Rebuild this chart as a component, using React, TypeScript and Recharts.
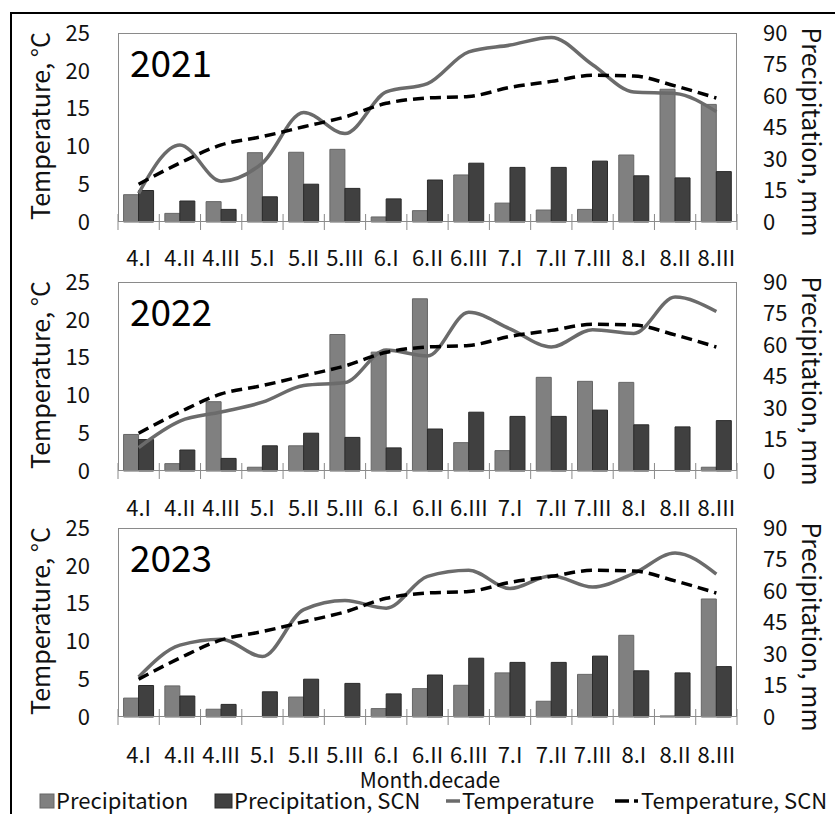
import React from 'react';
import { ComposedChart, Bar, Line, XAxis, YAxis } from 'recharts';

const decades = ['4.I', '4.II', '4.III', '5.I', '5.II', '5.III', '6.I', '6.II', '6.III', '7.I', '7.II', '7.III', '8.I', '8.II', '8.III'];

const precipScn = [15, 10, 6, 12, 18, 16, 11, 20, 28, 26, 26, 29, 22, 21, 24];
const tempScn = [5.0, 7.8, 10.2, 11.3, 12.6, 13.9, 15.7, 16.4, 16.6, 17.8, 18.6, 19.4, 19.3, 18.0, 16.4];

const precip2021 = [13, 4.1, 9.7, 33, 33.2, 34.6, 2.4, 5.4, 22.4, 9, 5.7, 6, 31.9, 63.2, 56];
const temp2021 = [3.8, 10.2, 5.4, 7.8, 14.5, 11.7, 17.2, 18.3, 22.5, 23.4, 24.4, 20.8, 17.2, 17.0, 14.6];

const precip2022 = [17.4, 3.5, 33, 1.8, 12, 65, 56.6, 82, 13.5, 9.7, 44.6, 42.7, 42.2, 0, 1.8];
const temp2022 = [3.1, 6.6, 7.8, 9.1, 11.3, 11.7, 16.0, 15.2, 21.0, 18.8, 16.4, 18.7, 18.2, 23.0, 21.1];

const precip2023 = [9, 14.8, 3.7, 0, 9.5, 0, 4, 13.5, 15.1, 21, 7.5, 20.3, 38.9, 0.5, 56.2];
const temp2023 = [5.3, 9.5, 10.3, 8.0, 14.2, 15.4, 14.4, 18.6, 19.4, 17.0, 18.7, 17.2, 19.0, 21.7, 18.9];

const tempTicks = [0, 5, 10, 15, 20, 25];
const precipTicks = [0, 15, 30, 45, 60, 75, 90];

const FONT = '"Noto Sans CJK JP", "Noto Sans", sans-serif';
const PLOT_LEFT = 118;
const PLOT_WIDTH = 619;
const PLOT_HEIGHT = 189;
const BAND = PLOT_WIDTH / decades.length;
const TOP_PAD = 20;
const X_AXIS_H = 60;

const makeRows = (precip: number[], temp: number[]) =>
  decades.map((d, i) => ({
    decade: d,
    precip: precip[i],
    precipScn: precipScn[i],
    temp: temp[i],
    tempScn: tempScn[i],
  }));

// category labels with Excel-style tick marks between categories
const DecadeTick = (props: any) => {
  const { x, y, payload, index, labelDy } = props;
  const last = index === decades.length - 1;
  return (
    <g>
      <line x1={x - BAND / 2} x2={x - BAND / 2} y1={y - 8} y2={y + 8} stroke="#8a8a8a" strokeWidth={1} />
      {last && <line x1={x + BAND / 2} x2={x + BAND / 2} y1={y - 8} y2={y + 8} stroke="#8a8a8a" strokeWidth={1} />}
      <text x={x} y={y + labelDy} textAnchor="middle" dominantBaseline="central" fontSize={22} fontFamily={FONT} fill="#111">
        {payload.value}
      </text>
    </g>
  );
};

interface PanelProps {
  year: string;
  plotTop: number;
  labelDy: number;
  precip: number[];
  temp: number[];
}

const Panel: React.FC<PanelProps> = ({ year, plotTop, labelDy, precip, temp }) => {
  const data = makeRows(precip, temp);
  const h = TOP_PAD + PLOT_HEIGHT + X_AXIS_H;
  return (
    <>
      <div style={{ position: 'absolute', left: 0, top: plotTop - TOP_PAD, width: 835, height: h }}>
        <ComposedChart
          width={835}
          height={h}
          data={data}
          margin={{ top: TOP_PAD, right: 0, bottom: 0, left: 0 }}
          barCategoryGap="13.5%"
          barGap={0}
        >
          <XAxis
            dataKey="decade"
            height={X_AXIS_H}
            axisLine={false}
            tickLine={false}
            tickSize={0}
            tickMargin={0}
            interval={0}
            tick={<DecadeTick labelDy={labelDy} />}
          />
          <YAxis
            yAxisId="t"
            orientation="left"
            width={PLOT_LEFT}
            domain={[0, 25]}
            ticks={tempTicks}
            axisLine={false}
            tickLine={false}
            tickSize={0}
            tickMargin={28}
            tick={{ fontSize: 22, fontFamily: FONT, fill: '#111' }}
          />
          <YAxis
            yAxisId="p"
            orientation="right"
            width={835 - PLOT_LEFT - PLOT_WIDTH}
            domain={[0, 90]}
            ticks={precipTicks}
            axisLine={false}
            tickLine={false}
            tickSize={0}
            tickMargin={26}
            tick={{ fontSize: 22, fontFamily: FONT, fill: '#111' }}
          />
          <Bar yAxisId="p" dataKey="precip" fill="#808080" stroke="#666" strokeWidth={1} isAnimationActive={false} />
          <Bar yAxisId="p" dataKey="precipScn" fill="#404040" stroke="#2a2a2a" strokeWidth={1} isAnimationActive={false} />
          <Line yAxisId="t" type="monotone" dataKey="temp" stroke="#6b6b6b" strokeWidth={3.5} dot={false} isAnimationActive={false} />
          <Line yAxisId="t" type="monotone" dataKey="tempScn" stroke="#000" strokeWidth={3.5} strokeDasharray="11 6" dot={false} isAnimationActive={false} />
        </ComposedChart>
      </div>
      <div
        style={{
          position: 'absolute',
          left: PLOT_LEFT,
          top: plotTop,
          width: PLOT_WIDTH,
          height: PLOT_HEIGHT,
          border: '1px solid #8a8a8a',
          boxSizing: 'border-box',
          pointerEvents: 'none',
        }}
      />
      <div style={{ position: 'absolute', left: 130, top: plotTop + 3, fontSize: 37, fontFamily: FONT, color: '#000', lineHeight: '50px' }}>
        {year}
      </div>
      <div
        style={{
          position: 'absolute',
          left: 39,
          top: plotTop + PLOT_HEIGHT / 2 - 2,
          transform: 'translate(-50%, -50%) rotate(-90deg)',
          fontSize: 25,
          fontFamily: FONT,
          whiteSpace: 'nowrap',
          color: '#111',
          lineHeight: '28px',
        }}
      >
        Temperature, °C
      </div>
      <div
        style={{
          position: 'absolute',
          left: 813,
          top: plotTop + PLOT_HEIGHT / 2 + 4,
          transform: 'translate(-50%, -50%) rotate(90deg)',
          fontSize: 25,
          fontFamily: FONT,
          whiteSpace: 'nowrap',
          color: '#111',
          lineHeight: '28px',
        }}
      >
        Precipitation, mm
      </div>
    </>
  );
};

const legendText: React.CSSProperties = { position: 'absolute', top: 787, fontSize: 22, fontFamily: FONT, color: '#111', lineHeight: '24px', whiteSpace: 'nowrap' };

export default function App() {
  return (
    <div style={{ position: 'absolute', left: 0, top: 0, width: 835, height: 814, overflow: 'hidden', background: '#fff' }}>
      <div style={{ position: 'absolute', left: 10, top: 12, width: 840, height: 820, border: '2px solid #000', boxSizing: 'border-box' }} />
      <Panel year="2021" plotTop={33} labelDy={34} precip={precip2021} temp={temp2021} />
      <Panel year="2022" plotTop={282} labelDy={35} precip={precip2022} temp={temp2022} />
      <Panel year="2023" plotTop={528} labelDy={36} precip={precip2023} temp={temp2023} />
      <div style={{ position: 'absolute', left: 430, top: 779, transform: 'translate(-50%, -50%)', fontSize: 21, fontFamily: FONT, color: '#111', whiteSpace: 'nowrap', lineHeight: '20px' }}>
        Month.decade
      </div>
      <svg style={{ position: 'absolute', left: 0, top: 789 }} width={835} height={24}>
        <rect x={40} y={5} width={14} height={14} fill="#808080" stroke="#666" />
        <rect x={215} y={5} width={17} height={14} fill="#404040" stroke="#2a2a2a" />
        <line x1={446} x2={460} y1={12} y2={12} stroke="#6b6b6b" strokeWidth={3.5} />
        <line x1={615} x2={629} y1={12} y2={12} stroke="#000" strokeWidth={3.5} />
        <line x1={634} x2={638} y1={12} y2={12} stroke="#000" strokeWidth={3.5} />
      </svg>
      <div style={{ ...legendText, left: 56 }}>Precipitation</div>
      <div style={{ ...legendText, left: 234 }}>Precipitation, SCN</div>
      <div style={{ ...legendText, left: 462 }}>Temperature</div>
      <div style={{ ...legendText, left: 641 }}>Temperature, SCN</div>
    </div>
  );
}
